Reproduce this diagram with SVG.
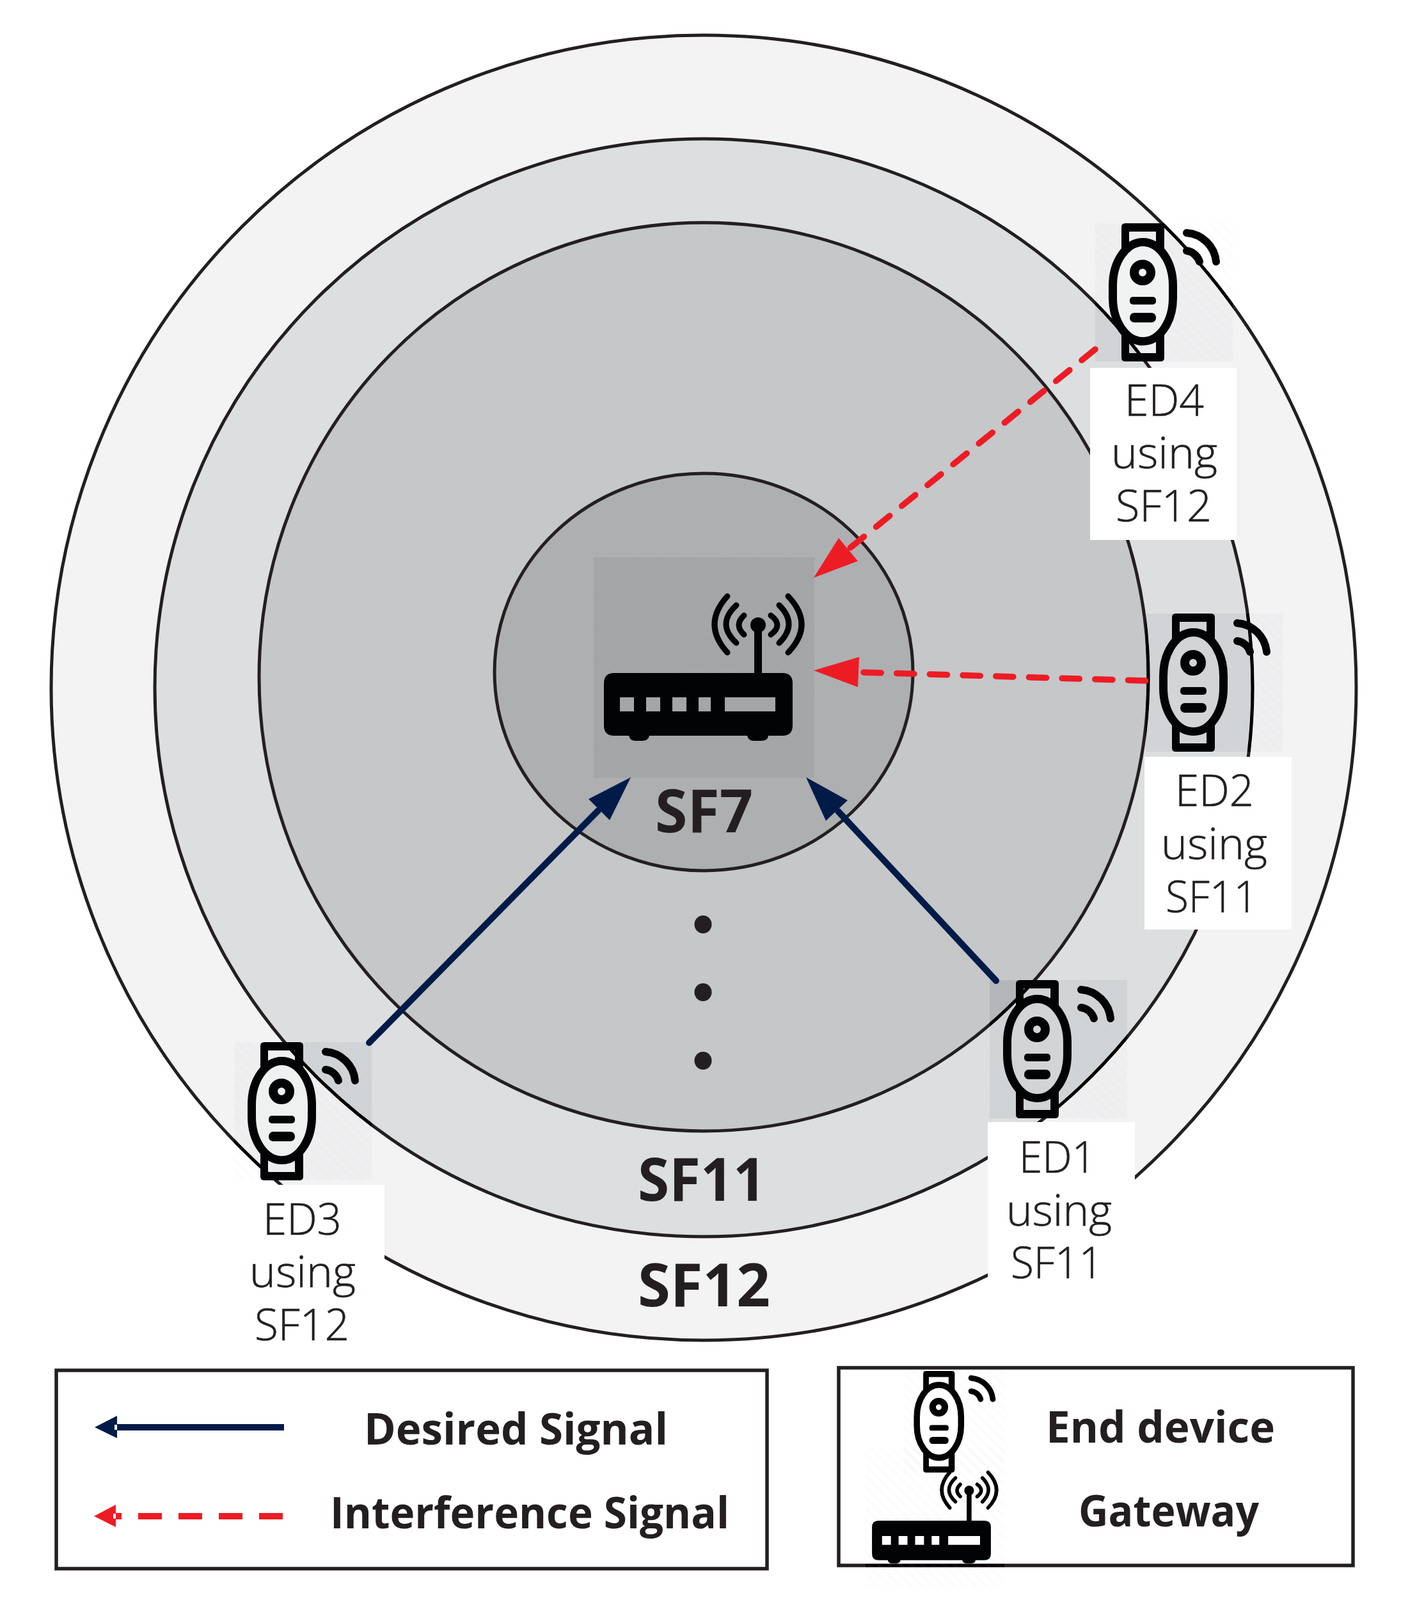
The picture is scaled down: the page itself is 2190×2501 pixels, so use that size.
<svg xmlns="http://www.w3.org/2000/svg" width="2190" height="2501" viewBox="0 0 2190 2501">
<style>
.zone{stroke:#231f20;stroke-width:5}
.lbl{font-family:"Open Sans","Noto Sans","Liberation Sans",sans-serif;font-weight:300;font-size:69px;fill:#231f20;stroke:#231f20;stroke-width:.6}
.bold{font-family:"Open Sans","Noto Sans","Liberation Sans",sans-serif;font-weight:700;fill:#231f20}
.sf{font-size:94px}
.leg{font-size:68px}
.box{fill:#fff;stroke:#231f20;stroke-width:5.5}
.wb{fill:#fff}
.navy{stroke:#001b47;stroke-width:10;fill:none}
.navyh{fill:#001b47}
.red{stroke:#ed1c24;stroke-width:9.5;fill:none;stroke-linecap:round;stroke-dasharray:27.3 24.4}
.redh{fill:#ed1c24}
.wave{fill:none;stroke:#020304;stroke-linecap:round}
.pd{fill:url(#sd);mix-blend-mode:color-burn}
.pg{fill:url(#sg);mix-blend-mode:color-burn}
.pf{fill:url(#sf)}
</style>
<defs>
<pattern id="sd" width="12" height="12" patternUnits="userSpaceOnUse" patternTransform="rotate(45)">
<rect width="12" height="12" fill="#c4c4c4"/>
<rect width="12" height="5" fill="#cccccc"/>
</pattern>
<pattern id="sg" width="12" height="12" patternUnits="userSpaceOnUse" patternTransform="rotate(45)">
<rect width="12" height="12" fill="#e2e2e2"/>
<rect width="12" height="5" fill="#eaeaea"/>
</pattern>
<pattern id="sf" width="12" height="12" patternUnits="userSpaceOnUse" patternTransform="rotate(45)">
<rect width="12" height="5" fill="#000" fill-opacity=".012"/>
</pattern>
<g id="device">
<path fill="#020304" fill-rule="evenodd" d="M47 0H102Q108 0 108 6V210Q108 216 102 216H47Q41 216 41 210V6Q41 0 47 0ZM53 13V40H95V13ZM53 176V203H95V176Z"/>
<rect x="27.5" y="29.5" width="94" height="155" rx="47" ry="68" stroke="#020304" stroke-width="13"/>
<circle cx="74" cy="77" r="13" fill="none" stroke="#020304" stroke-width="14"/>
<rect x="54" y="115" width="41" height="12" rx="5" fill="#020304"/>
<rect x="54" y="140" width="41" height="15" rx="7" fill="#020304"/>
<path class="wave" stroke-width="12" d="M143 15A50 50 0 0 1 189 60"/>
<path class="wave" stroke-width="12" d="M143 43A24 24 0 0 1 163 60"/>
</g>
<g id="gw">
<path fill="#020304" fill-rule="evenodd" d="M32 181H295Q311 181 311 197V263Q311 279 295 279H273Q272 287 262 287H250Q242 287 240 279H87Q85 287 76 287H65Q57 287 55 279H32Q16 279 16 263V197Q16 181 32 181ZM41 219V241H63V219ZM82 219V241H104V219ZM123 219V241H145V219ZM164 219V241H183V219ZM205 219V241H284V219Z"/>
<rect x="251" y="106" width="12" height="76" fill="#020304"/>
<circle cx="257" cy="106" r="12" fill="#020304"/>
<path class="wave" stroke-width="9" d="M209 61Q169 105 209 149M223 75Q191 104.500 223 134M235 91Q219 106 235 121M304 61Q346 105 304 149M290 75Q320 104.500 290 134M277 91Q297 106 277 121"/>
</g>
</defs>
<rect class="wb" width="2190" height="2501"/>

<g id="zones">
<circle id="zone-sf12" class="zone" cx="1100" cy="1075" r="1020" fill="#f3f3f4"/>
<circle id="zone-sf11" class="zone" cx="1100" cy="1075" r="858" fill="#dcdee0"/>
<ellipse id="zone-mid" class="zone" cx="1100" cy="1058" rx="695" ry="710" fill="#c5c7c9"/>
<ellipse id="zone-sf7" class="zone" cx="1100" cy="1050.500" rx="327" ry="310.500" fill="#aeafb1"/>
<ellipse cx="1099" cy="1445" rx="13.500" ry="14" fill="#231f20"/>
<ellipse cx="1099" cy="1551" rx="13.500" ry="14" fill="#231f20"/>
<ellipse cx="1099" cy="1658" rx="13.500" ry="14" fill="#231f20"/>
<text class="bold sf" x="1024" y="1301" textLength="153" lengthAdjust="spacingAndGlyphs">SF7</text>
<text class="bold sf" x="997" y="1877" textLength="200" lengthAdjust="spacingAndGlyphs">SF11</text>
<text class="bold sf" x="997" y="2042" textLength="207" lengthAdjust="spacingAndGlyphs">SF12</text>
</g>

<g id="gateway">
<rect class="pg" x="928" y="871" width="345" height="345"/>
<rect class="pf" x="928" y="871" width="345" height="345"/>
<use href="#gw" transform="translate(928 871)"/>
</g>

<g id="ed4">
<rect class="pd" x="1712" y="349" width="215" height="216"/>
<rect class="pf" x="1712" y="349" width="215" height="216"/>
<use href="#device" transform="translate(1712 349)" fill="#f1f2f2"/>
<rect class="wb" x="1704" y="575" width="229" height="269"/>
<text class="lbl" x="1758" y="649.500" textLength="124" lengthAdjust="spacingAndGlyphs">ED4</text>
<text class="lbl" x="1737" y="731.500" textLength="166" lengthAdjust="spacingAndGlyphs">using</text>
<text class="lbl" x="1744" y="815" textLength="150" lengthAdjust="spacingAndGlyphs">SF12</text>
</g>
<g id="ed2">
<rect class="pd" x="1791" y="959" width="215" height="216"/>
<rect class="pf" x="1791" y="959" width="215" height="216"/>
<use href="#device" transform="translate(1791 959)" fill="#d3d4d5"/>
<rect class="wb" x="1789" y="1183" width="230" height="270"/>
<text class="lbl" x="1837" y="1260" textLength="123" lengthAdjust="spacingAndGlyphs">ED2</text>
<text class="lbl" x="1815" y="1343" textLength="166" lengthAdjust="spacingAndGlyphs">using</text>
<text class="lbl" x="1822" y="1425.500" textLength="144" lengthAdjust="spacingAndGlyphs">SF11</text>
</g>
<g id="ed1">
<rect class="pd" x="1547" y="1532" width="215" height="216"/>
<rect class="pf" x="1547" y="1532" width="215" height="216"/>
<use href="#device" transform="translate(1547 1532)" fill="#d3d4d5"/>
<rect class="wb" x="1544" y="1754" width="230" height="270"/>
<text class="lbl" x="1593" y="1832.500" textLength="120" lengthAdjust="spacingAndGlyphs">ED1</text>
<text class="lbl" x="1573" y="1915.500" textLength="165" lengthAdjust="spacingAndGlyphs">using</text>
<text class="lbl" x="1580" y="1998" textLength="144" lengthAdjust="spacingAndGlyphs">SF11</text>
</g>
<g id="ed3">
<rect class="pd" x="366" y="1629" width="215" height="216"/>
<rect class="pf" x="366" y="1629" width="215" height="216"/>
<use href="#device" transform="translate(366 1629)" fill="#eff0f0"/>
<rect class="wb" x="371" y="1852" width="230" height="270"/>
<text class="lbl" x="411" y="1929.500" textLength="123" lengthAdjust="spacingAndGlyphs">ED3</text>
<text class="lbl" x="390" y="2011.500" textLength="166" lengthAdjust="spacingAndGlyphs">using</text>
<text class="lbl" x="398" y="2095" textLength="148" lengthAdjust="spacingAndGlyphs">SF12</text>
</g>

<g id="connectors">
<path class="navy" stroke-linecap="round" d="M577 1630L935 1267"/>
<polygon class="navyh" points="986,1215 920,1249 953,1282"/>
<path class="navy" stroke-linecap="round" d="M1557 1533L1310 1268"/>
<polygon class="navyh" points="1260,1215 1325,1251 1291,1283"/>
<path class="red" d="M1329.300 856L1712 546"/>
<polygon class="redh" points="1272,903 1311,841 1341,877"/>
<path class="red" d="M1350 1051L1791 1064"/>
<polygon class="redh" points="1272,1048 1343,1027 1341,1074"/>
</g>

<g id="legend-signals">
<rect class="box" x="88" y="2142" width="1111" height="310"/>
<path d="M181 2231H444" stroke="#001b47" stroke-width="10"/>
<polygon class="navyh" points="148,2231 183,2213 183,2248"/>
<rect class="wb" x="179" y="2227" width="4" height="8"/>
<path d="M442 2370H177" stroke="#ed1c24" stroke-width="10" stroke-dasharray="37 26"/>
<polygon class="redh" points="147,2370 181,2352 181,2387"/>
<rect class="wb" x="177" y="2366" width="4" height="8"/>
<text class="bold leg" x="569" y="2258" textLength="475" lengthAdjust="spacingAndGlyphs">Desired Signal</text>
<text class="bold leg" x="516" y="2389" textLength="624" lengthAdjust="spacingAndGlyphs">Interference Signal</text>
</g>

<g id="legend-nodes">
<rect class="box" x="1311" y="2138" width="804" height="309"/>
<rect class="pd" x="1413" y="2143" width="158" height="159"/>
<rect class="pf" x="1413" y="2143" width="158" height="159"/>
<rect class="pg" x="1353" y="2263" width="217" height="217"/>
<rect class="pf" x="1353" y="2263" width="217" height="217"/>
<use href="#device" transform="translate(1413 2143) scale(.735)" fill="#fff"/>
<use href="#gw" transform="translate(1353 2263) scale(.63)"/>
<text class="bold leg" x="1635" y="2255" textLength="358" lengthAdjust="spacingAndGlyphs">End  device</text>
<text class="bold leg" x="1686" y="2386" textLength="282" lengthAdjust="spacingAndGlyphs">Gateway</text>
</g>
</svg>
